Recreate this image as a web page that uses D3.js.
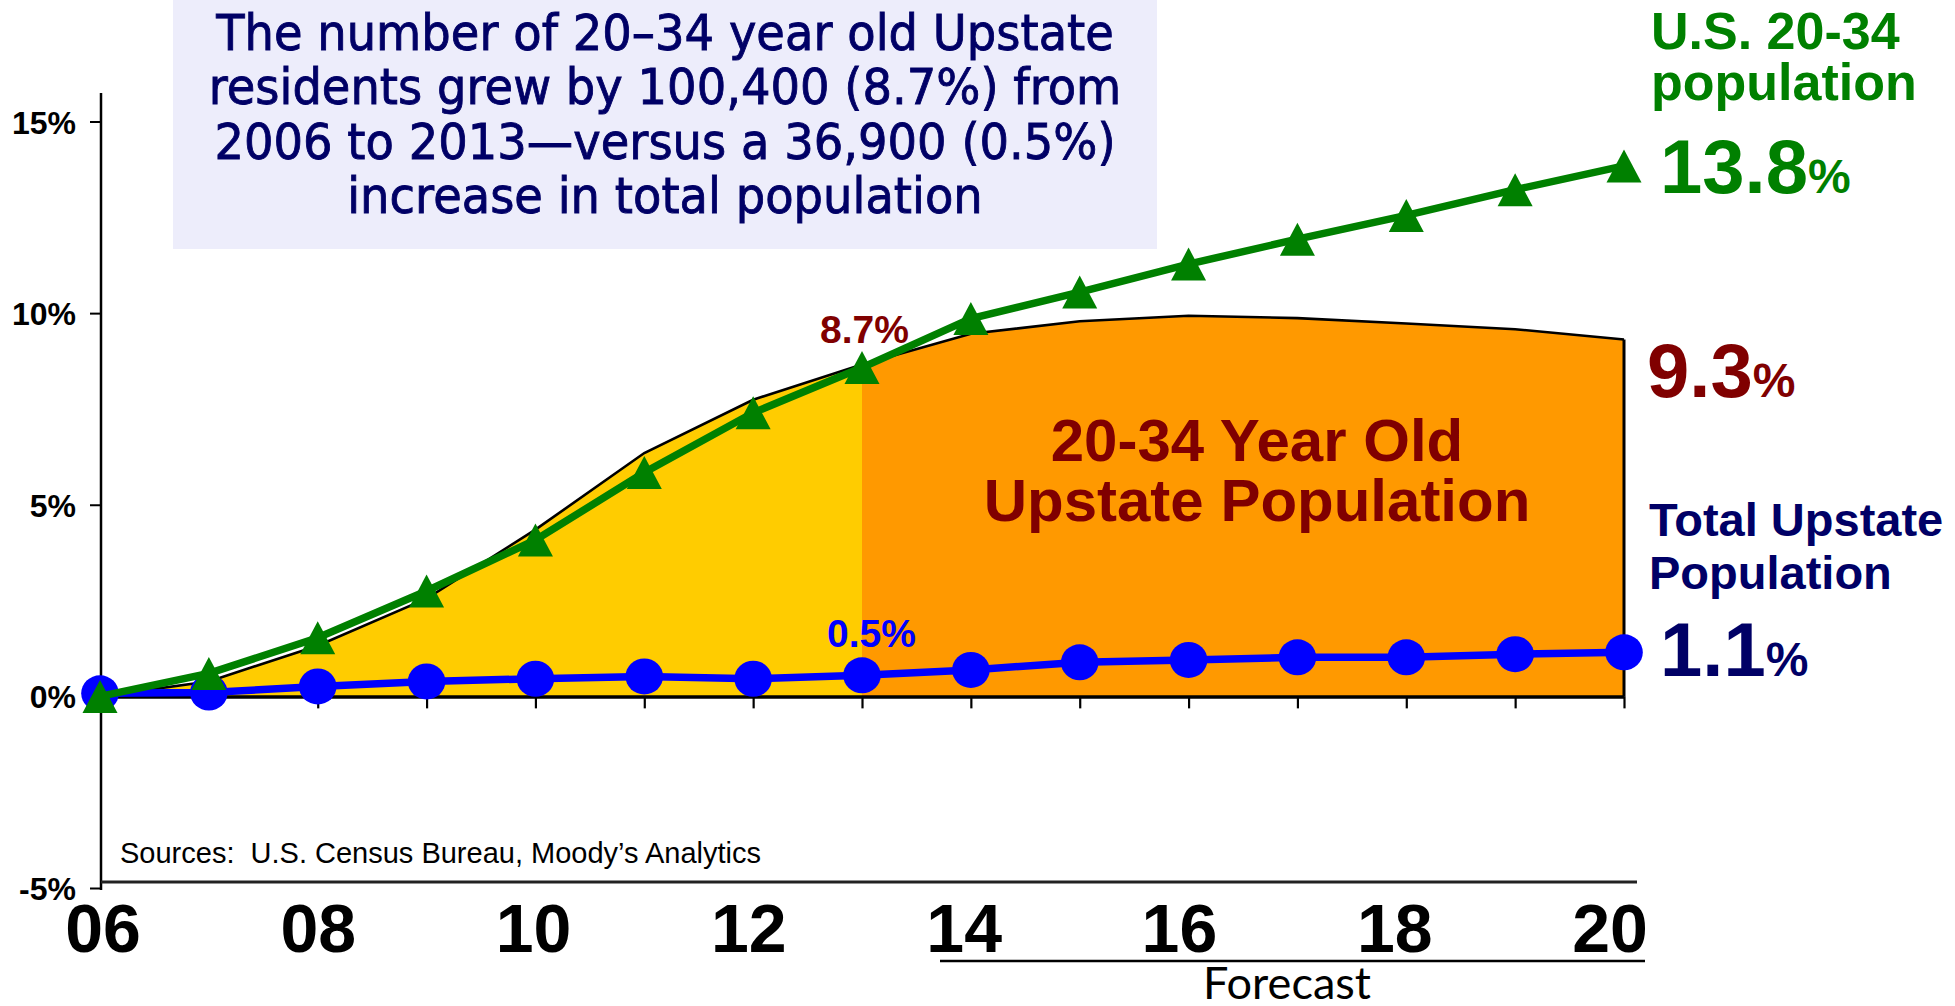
<!DOCTYPE html>
<html><head><meta charset="utf-8">
<script src="https://cdn.jsdelivr.net/npm/d3@7"></script>
<style>
html,body{margin:0;padding:0;background:#fff;}
svg{display:block;}
</style></head>
<body>
<svg id="chart" width="1955" height="1006"></svg>
<script>
// ---------- data ----------
const years = [2006,2007,2008,2009,2010,2011,2012,2013,2014,2015,2016,2017,2018,2019,2020];
const usYoung       = [0, 0.60, 1.53, 2.75, 4.08, 5.84, 7.40, 8.58, 9.86, 10.55, 11.28, 11.93, 12.55, 13.22, 13.84];
const upstateYoung  = [0, 0.39, 1.32, 2.55, 4.35, 6.35, 7.74, 8.66, 9.46, 9.79, 9.93, 9.87, 9.73, 9.58, 9.31];
const upstateTotal  = [0.08, 0.10, 0.26, 0.39, 0.46, 0.52, 0.46, 0.55, 0.69, 0.89, 0.95, 1.02, 1.02, 1.10, 1.15];
const yTicks = [-5, 0, 5, 10, 15];
const xTickLabels = ["06","08","10","12","14","16","18","20"];
const xLabelYears = [2006,2008,2010,2012,2014,2016,2018,2020];
const forecastStart = 2013;
const titleLines = [
  "The number of 20\u201334 year old Upstate",
  "residents grew by 100,400 (8.7%) from",
  "2006 to 2013\u2014versus a 36,900 (0.5%)",
  "increase in total population"
];
const sourceText = "Sources:  U.S. Census Bureau, Moody\u2019s Analytics";

// ---------- colors ----------
const GREEN = "#008000", DARKRED = "#800000", BLUE = "#0000FF", NAVY = "#000066";
const YELLOW = "#FFCC00", ORANGE = "#FF9900";

const svg = d3.select("#chart");
const x = d3.scaleLinear().domain([2006, 2020]).range([100, 1624]);
const y = d3.scaleLinear().domain([-5, 15]).range([888, 121.5]);
const xLab = d3.scaleLinear().domain([2006, 2020]).range([103, 1610]);

const ARIAL = "'Liberation Sans', Arial, sans-serif";

// title box
svg.append("rect").attr("x", 173).attr("y", 0).attr("width", 984).attr("height", 249)
  .attr("fill", "#EDEDFB");
const tg = svg.append("g");
const tt = tg.selectAll("text").data(titleLines).enter().append("text")
  .attr("x", 0).attr("y", (d, i) => 50 + i * 54.4)
  .attr("text-anchor", "middle")
  .attr("font-family", "'DejaVu Sans', Verdana, sans-serif")
  .attr("font-size", 50.5)
  .attr("fill", NAVY).attr("stroke", NAVY).attr("stroke-width", 0.9)
  .text(d => d);
const w1 = tt.nodes()[0].getComputedTextLength();
tg.attr("transform", `translate(665,0) scale(${898 / w1},1)`);

// area data
const pts = years.map((yr, i) => ({yr, v: upstateYoung[i]}));
const area = d3.area().x(d => x(d.yr)).y0(y(0)).y1(d => y(d.v));
const past = pts.filter(d => d.yr <= forecastStart);
const fut = pts.filter(d => d.yr >= forecastStart);
svg.append("path").datum(past).attr("d", area).attr("fill", YELLOW);
svg.append("path").datum(fut).attr("d", area).attr("fill", ORANGE);

const line = d3.line().x(d => x(d.yr)).y(d => y(d.v));
// white halo above outline
svg.append("path").datum(pts).attr("d", line).attr("fill", "none")
  .attr("stroke", "#fff").attr("stroke-width", 2.5).attr("transform", "translate(0,-2.5)");
svg.append("path").datum(pts).attr("d", line).attr("fill", "none")
  .attr("stroke", "#000").attr("stroke-width", 2.6);
// right edge of forecast area
const last = pts[pts.length - 1];
svg.append("line").attr("x1", x(last.yr)).attr("x2", x(last.yr))
  .attr("y1", y(last.v)).attr("y2", y(0)).attr("stroke", "#000").attr("stroke-width", 3);

// zero axis with ticks
const xAxis = d3.axisBottom(x).tickValues(years).tickSize(12).tickSizeOuter(0).tickFormat("");
const gx = svg.append("g").attr("transform", `translate(0,${y(0)})`).call(xAxis);
gx.select(".domain").attr("stroke", "#000").attr("stroke-width", 3.5);
gx.selectAll(".tick line").attr("stroke", "#000").attr("stroke-width", 2.2);

// y axis
const yAxis = d3.axisLeft(y).tickValues(yTicks).tickSize(11).tickPadding(14).tickFormat(d => d + "%");
const gy = svg.append("g").attr("transform", "translate(101,0)").call(yAxis);
gy.select(".domain").remove();
gy.selectAll(".tick line").attr("stroke", "#000").attr("stroke-width", 2);
gy.selectAll(".tick text").attr("font-family", ARIAL).attr("font-weight", "bold")
  .attr("font-size", 32).attr("fill", "#000").attr("dy", "0.36em");
svg.append("line").attr("x1", 101).attr("x2", 101).attr("y1", 93).attr("y2", y(-5) + 2)
  .attr("stroke", "#000").attr("stroke-width", 2.5);
// bottom frame line
svg.append("line").attr("x1", 101).attr("x2", 1637).attr("y1", 882).attr("y2", 882)
  .attr("stroke", "#222").attr("stroke-width", 3);

// blue line: total upstate population
const tot = years.map((yr, i) => ({yr, v: upstateTotal[i]}));
svg.append("path").datum(tot).attr("d", line).attr("fill", "none")
  .attr("stroke", BLUE).attr("stroke-width", 7.5);
svg.selectAll("ellipse.tot").data(tot).enter().append("ellipse").attr("class", "tot")
  .attr("cx", d => x(d.yr)).attr("cy", d => y(d.v)).attr("rx", 18.8).attr("ry", 18)
  .attr("fill", BLUE);

// green line: US 20-34
const us = years.map((yr, i) => ({yr, v: usYoung[i]}));
svg.append("path").datum(us).attr("d", line).attr("fill", "none")
  .attr("stroke", GREEN).attr("stroke-width", 7.5);
svg.selectAll("path.tri").data(us).enter().append("path").attr("class", "tri")
  .attr("d", "M0,-16.5L17.5,16.5L-17.5,16.5Z")
  .attr("transform", d => `translate(${x(d.yr)},${y(d.v)})`)
  .attr("fill", GREEN);

// x tick labels
svg.selectAll("text.xl").data(xLabelYears).enter().append("text").attr("class", "xl")
  .attr("x", d => xLab(d)).attr("y", 952).attr("text-anchor", "middle")
  .attr("font-family", ARIAL).attr("font-weight", "bold").attr("font-size", 68)
  .attr("fill", "#000").text((d, i) => xTickLabels[i]);

// forecast underline + label
svg.append("line").attr("x1", 940).attr("x2", 1645).attr("y1", 961).attr("y2", 961)
  .attr("stroke", "#000").attr("stroke-width", 2.5);
const fg = svg.append("g");
const ft = fg.append("text").attr("x", 0).attr("y", 999).attr("text-anchor", "middle")
  .attr("font-family", "Lato, 'Open Sans', sans-serif").attr("font-size", 44)
  .attr("fill", "#000").text("Forecast");
fg.attr("transform", `translate(1287,0) scale(${168 / ft.node().getComputedTextLength()},1)`);

// sources
svg.append("text").attr("x", 120).attr("y", 863).attr("font-family", ARIAL)
  .attr("font-size", 29).attr("fill", "#000").style("white-space", "pre").text(sourceText);

// in-chart labels
svg.append("text").attr("x", 820).attr("y", 343).attr("font-family", ARIAL)
  .attr("font-weight", "bold").attr("font-size", 39).attr("fill", DARKRED).text("8.7%");
svg.append("text").attr("x", 827).attr("y", 647).attr("font-family", ARIAL)
  .attr("font-weight", "bold").attr("font-size", 39).attr("fill", BLUE).text("0.5%");
svg.append("text").attr("x", 1257).attr("y", 461).attr("text-anchor", "middle").attr("font-family", ARIAL)
  .attr("font-weight", "bold").attr("font-size", 60).attr("fill", DARKRED).text("20-34 Year Old");
svg.append("text").attr("x", 1257).attr("y", 521).attr("text-anchor", "middle").attr("font-family", ARIAL)
  .attr("font-weight", "bold").attr("font-size", 60).attr("fill", DARKRED).text("Upstate Population");

// right side labels
function rlabel(txt, xx, yy, size, color) {
  return svg.append("text").attr("x", xx).attr("y", yy).attr("font-family", ARIAL)
    .attr("font-weight", "bold").attr("font-size", size).attr("fill", color).text(txt);
}
rlabel("U.S. 20-34", 1651, 49, 52, GREEN);
rlabel("population", 1651, 100, 52, GREEN);
function bigPct(num, xx, yy, color) {
  const t = svg.append("text").attr("x", xx).attr("y", yy).attr("font-family", ARIAL)
    .attr("font-weight", "bold").attr("font-size", 76).attr("fill", color);
  t.append("tspan").text(num);
  t.append("tspan").attr("font-size", 48).text("%");
}
bigPct("13.8", 1660, 193, GREEN);
bigPct("9.3", 1647, 397, DARKRED);
rlabel("Total Upstate", 1649, 536, 47, NAVY);
rlabel("Population", 1649, 589, 47, NAVY);
bigPct("1.1", 1660, 676, NAVY);
</script>
</body></html>
